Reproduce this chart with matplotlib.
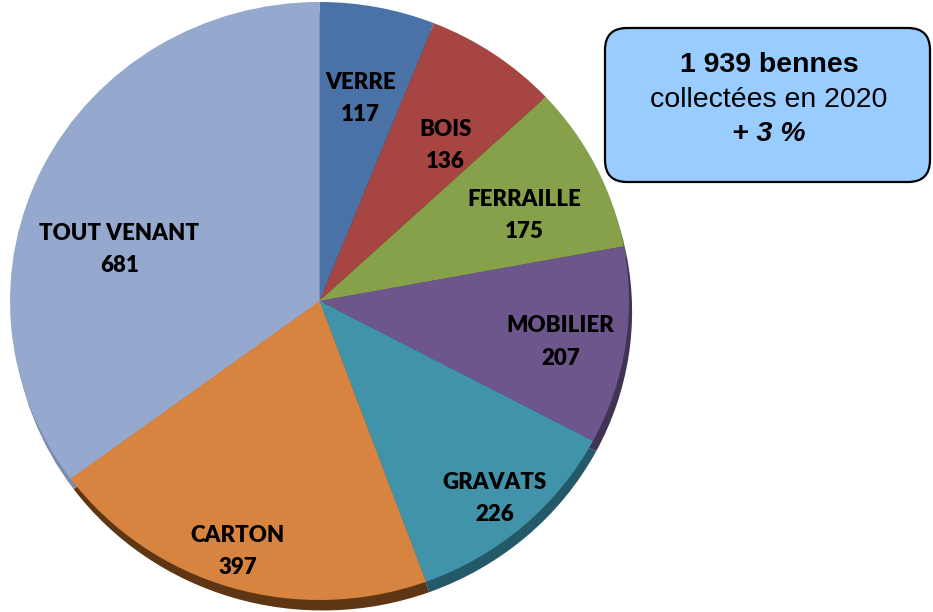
import matplotlib.pyplot as plt
from matplotlib.patches import FancyBboxPatch
import numpy as np

# bennes collectees par type de dechet (2020)
categories = ['VERRE', 'BOIS', 'FERRAILLE', 'MOBILIER', 'GRAVATS', 'CARTON', 'TOUT VENANT']
values = [117, 136, 175, 207, 226, 397, 681]
colors = ['#4a72a6', '#a64542', '#87a14a', '#6c568c', '#4193aa', '#d6843f', '#95a9cf']
shadow_colors = ['#2c4466', '#66292a', '#52632c', '#403354', '#245a68', '#5e3614', '#7a8bab']

# label placement (fraction of radius, angle in degrees)
label_r = [0.69, 0.66, 0.72, 0.79, 0.87, 0.88, 0.67]
label_ang = [79, 52, 23.5, -10, -49.5, -107.5, 165]

fig = plt.figure(figsize=(9.33, 6.12), dpi=100)

# pie axes: slightly elliptic like the original (wider than tall)
ax = fig.add_axes([10 / 933, (612 - 600) / 612, 619 / 933, 598 / 612])

# shadow under the pie
ax.pie(values, colors=shadow_colors, startangle=90, counterclock=False,
       center=(0.01, -0.035), wedgeprops=dict(linewidth=0))
ax.pie(values, colors=colors, startangle=90, counterclock=False,
       wedgeprops=dict(linewidth=0))
ax.set_aspect('auto')
ax.set_xlim(-1, 1)
ax.set_ylim(-1.0, 1.0)
ax.axis('off')

for name, val, r, a in zip(categories, values, label_r, label_ang):
    x = r * np.cos(np.radians(a))
    y = r * np.sin(np.radians(a))
    ax.text(x, y, '%s\n%d' % (name, val), ha='center', va='center',
            fontsize=16, fontweight='heavy', family='Lato', color='black',
            linespacing=1.65)

# info box in pixel coordinates
ov = fig.add_axes([0, 0, 1, 1])
ov.set_xlim(0, 933)
ov.set_ylim(612, 0)
ov.axis('off')
box = FancyBboxPatch((625, 48), 285, 114, boxstyle='round,pad=20,rounding_size=22',
                     facecolor='#99ccff', edgecolor='black', linewidth=1.6)
ov.add_patch(box)
ov.text(769, 65, '1 939 bennes', ha='center', va='center', fontsize=20.5,
        fontweight='bold', family='Liberation Sans')
ov.text(769, 100, 'collectées en 2020', ha='center', va='center', fontsize=20.5,
        family='Liberation Sans')
ov.text(769, 134, '+ 3 %', ha='center', va='center', fontsize=20.5,
        fontweight='bold', style='italic', family='Liberation Sans')

fig.savefig('out.png', dpi=100)
